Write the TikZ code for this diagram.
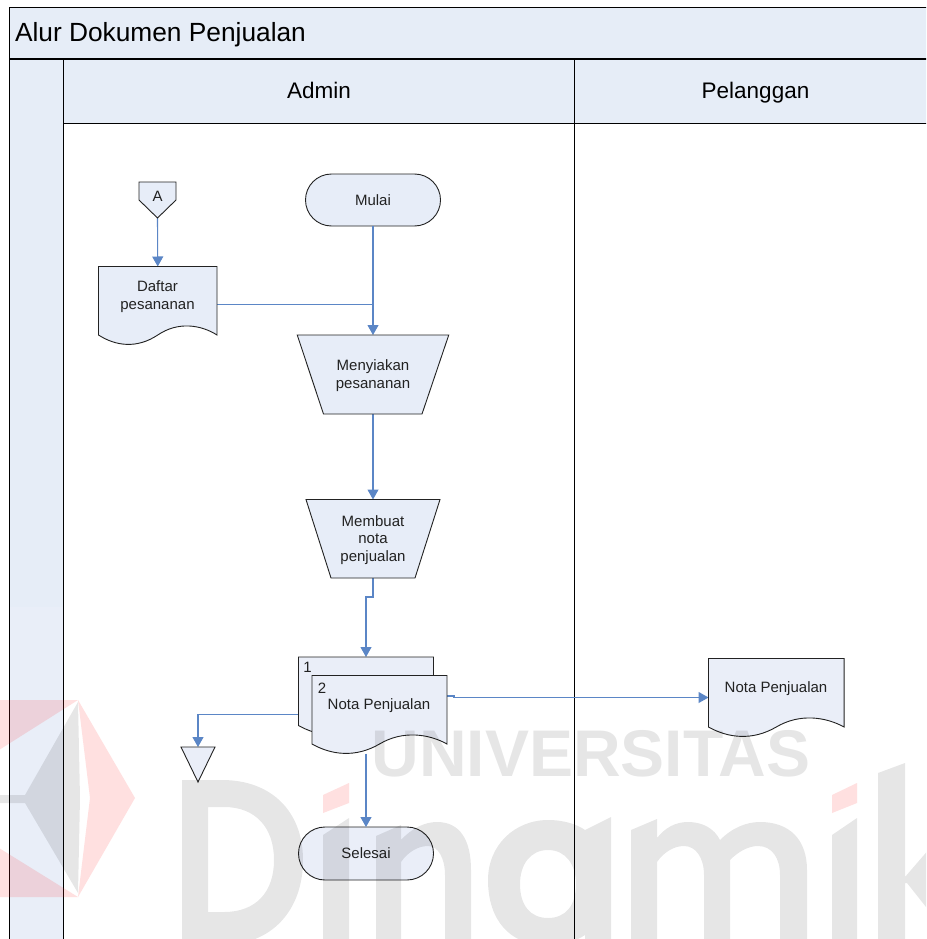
\documentclass[tikz,border=0pt]{standalone}
\usepackage{fontspec}
\setmainfont{Liberation Sans}
\usetikzlibrary{arrows.meta,shapes.misc}
\definecolor{laneA}{HTML}{E6EDF7}
\definecolor{laneB}{HTML}{E9EEF8}
\definecolor{shapeA}{HTML}{E7EDF8}
\definecolor{shapeB}{HTML}{EAEEF8}
\definecolor{conn}{HTML}{5B86C6}
\definecolor{ink}{HTML}{222222}
\tikzset{
 lane/.style={draw=black,line width=1pt},
 sh/.style={draw=ink,line width=0.9pt,line join=miter},
 box/.style={inner sep=0pt,outer sep=0pt},
 lbl/.style={inner sep=0pt,outer sep=0pt,align=center,text=ink,font=\fontsize{15}{18}\selectfont},
 conline/.style={draw=conn,line width=1.1pt},
 conarrow/.style={conline,-{Triangle[length=10pt,width=11pt,fill=conn]}},
 wmark/.style={fill=black,fill opacity=.098,even odd rule},
 wpink/.style={fill=red!85!white,fill opacity=.14},
}
\newcommand{\wavedoc}[4]{\draw[sh,fill=#4,shift={(#1,#2)},xscale=#3] (0,0) -- (135,0) -- (135,68.5) .. controls (117,58.5) and (91,54.5) .. (67.5,68.5) .. controls (43.5,82.5) and (19.5,79.5) .. (0,68.5) -- cycle;}
\begin{document}
\begin{tikzpicture}[x=1pt,y=-1pt]
\useasboundingbox (0,0) rectangle (926,939);
\clip (0,0) rectangle (926,939);
\fill[white] (0,0) rectangle (926,939);
% lanes
\fill[laneA] (9.5,7.5) rectangle (930,59);
\fill[laneA] (9.5,59) rectangle (63,607);
\fill[laneB] (9.5,607) rectangle (63,945);
\fill[laneA] (63,59) rectangle (930,124);
\draw[lane] (930,7.5) -- (9.5,7.5) -- (9.5,945);
\draw[lane,line width=1.6pt] (9.5,59) -- (930,59);
\draw[lane] (63,59) -- (63,945);
\draw[lane] (63,124) -- (930,124);
\draw[lane] (574.5,59) -- (574.5,945);
\node[box,anchor=base west,text=black,font=\fontsize{26.3}{30}\selectfont] (title) at (15,41.5) {Alur Dokumen Penjualan};
\node[box,anchor=base,text=black,font=\fontsize{22.5}{26}\selectfont] (admin) at (319,99) {Admin};
\node[box,anchor=base,text=black,font=\fontsize{22.5}{26}\selectfont] (pelanggan) at (755.5,99) {Pelanggan};
% node boxes (anchors for connectors)
\node[box,minimum width=37pt,minimum height=36pt] (offA) at (157.5,200) {};
\node[box,minimum width=118.5pt,minimum height=76pt] (daftar) at (157.75,304.5) {};
\node[box,minimum width=151.5pt,minimum height=79pt] (menyiakan) at (373,374.5) {};
\node[box,minimum width=134pt,minimum height=78.5pt] (membuat) at (373,538.75) {};
\node[box,minimum width=135pt,minimum height=78pt] (notaA) at (366,696) {};
\node[box,minimum width=135pt,minimum height=78pt] (notaB) at (379.5,714.5) {};
\node[box,minimum width=135.5pt,minimum height=78pt] (notaP) at (776.25,697.5) {};
\node[box,minimum width=34pt,minimum height=35pt] (sink) at (198,764.5) {};
\coordinate (joint) at (373,304.5);
\coordinate (bendA) at (373,597);
\coordinate (bendB) at (366,597);
\coordinate (outA) at (447,696);
\coordinate (outB) at (454,696);
\coordinate (outC) at (454,697.5);
% terminals
\node[rounded rectangle,sh,fill=shapeA,box,minimum width=135pt,minimum height=52pt,text=ink,font=\fontsize{15}{18}\selectfont] (mulai) at (373,200) {Mulai};
\node[rounded rectangle,sh,fill=shapeB,box,minimum width=135pt,minimum height=53pt,text=ink,font=\fontsize{15}{18}\selectfont] (selesai) at (366,853.5) {Selesai};
% connectors
\draw[conarrow] (offA.south) -- (daftar.north);
\draw[conline] (daftar.east) -- (joint);
\draw[conarrow] (mulai.south) -- (menyiakan.north);
\draw[conarrow] (menyiakan.south) -- (membuat.north);
\draw[conarrow] (membuat.south) -- (bendA) -- (bendB) -- (notaA.north);
\draw[conarrow] (notaB.south -| notaA.south) -- (selesai.north);
\draw[conarrow] (outA) -- (outB) -- (outC) -- (notaP.west);
\draw[conarrow] (notaB.west) -| (sink.north);
% shapes
\draw[sh,fill=shapeA] (139,182) -- (176,182) -- (176,200) -- (157.5,218) -- (139,200) -- cycle;
\wavedoc{98.5}{266.5}{.878}{shapeA}
\draw[sh,fill=shapeA] (297.25,335) -- (448.75,335) -- (422,414) -- (323.5,414) -- cycle;
\draw[sh,fill=shapeA] (306,499.5) -- (440,499.5) -- (415,578) -- (331,578) -- cycle;
\wavedoc{298.5}{657}{1}{shapeB}
\wavedoc{312}{675.5}{1}{shapeB}
\wavedoc{708.5}{658.5}{1.004}{shapeB}
\draw[sh,fill=shapeB] (181,747) -- (215,747) -- (198,782) -- cycle;
% labels
\node[lbl] (tA) at (157.5,196) {A};
\node[lbl] (tDaftar) at (157.5,296.5) {Daftar\\pesananan};
\node[lbl] (tMenyiakan) at (373,375.5) {Menyiakan\\pesananan};
\node[lbl,font=\fontsize{15}{17.6}\selectfont] (tMembuat) at (373,540) {Membuat\\nota\\penjualan};
\node[lbl] (tOne) at (307.5,667) {1};
\node[lbl] (tTwo) at (322,688.5) {2};
\node[lbl] (tNotaB) at (379,706) {Nota Penjualan};
\node[lbl] (tNotaP) at (776,689) {Nota Penjualan};
% watermark
\fill[wpink] (-1,700) -- (78,700) -- (-1,750) -- cycle;
\fill[wpink] (-1,848) -- (78,897) -- (-1,897) -- cycle;
\fill[wpink] (78,700) -- (135,798) -- (78,897) -- (90,798) -- cycle;
\fill[wmark] (78,702) -- (25,795) -- (-1,795) -- (-1,803) -- (25,803) -- (78,893) -- (80,798) -- cycle;
\node[box,text=black,text opacity=.098,font=\fontsize{66}{70}\selectfont\bfseries] (univ) at (591,754) {UNIVERSITAS};
% D
\fill[wmark] (182,780) -- (222,780) .. controls (272,780) and (303,812) .. (303,860) .. controls (303,910) and (272,945) .. (222,945) -- (182,945) -- cycle
 (208,807) -- (208,912) -- (224,912) .. controls (256,912) and (274,892) .. (274,860) .. controls (274,828) and (256,807) .. (224,807) -- cycle;
% i
\fill[wmark] (323,835) -- (349,818) -- (349,945) -- (323,945) -- cycle;
\fill[wpink] (323,795) -- (349,783) -- (349,803) -- (323,813) -- cycle;
% n
\fill[wmark] (376,836) -- (401,825) -- (401,840) .. controls (412,828) and (425,822) .. (437,822) .. controls (460,822) and (471,840) .. (471,870) -- (471,945) -- (445,945) -- (445,875) .. controls (445,858) and (438,846) .. (428,846) .. controls (418,846) and (408,852) .. (401,862) -- (401,945) -- (376,945) -- cycle;
% a
\fill[wmark] (611,817) -- (611,945) -- (585,945) -- (585,935) .. controls (575,942) and (560,945) .. (545,945) .. controls (510,945) and (488,920) .. (488,880) .. controls (488,845) and (515,820) .. (548,820) .. controls (565,820) and (578,825) .. (585,830) -- cycle
 (548,850) .. controls (530,850) and (520,865) .. (520,884) .. controls (520,905) and (530,918) .. (548,918) .. controls (566,918) and (576,905) .. (576,884) .. controls (576,865) and (566,850) .. (548,850) -- cycle;
% m
\fill[wmark] (631,830) -- (657,819) -- (657,838) .. controls (665,828) and (675,822) .. (688,822) .. controls (702,822) and (714,828) .. (720,840) .. controls (732,828) and (746,822) .. (760,822) .. controls (790,822) and (807,840) .. (807,870) -- (807,945) -- (780,945) -- (780,875) .. controls (780,858) and (772,846) .. (758,846) .. controls (748,846) and (738,852) .. (730,860) -- (730,945) -- (704,945) -- (704,875) .. controls (704,858) and (696,846) .. (684,846) .. controls (674,846) and (664,852) .. (657,862) -- (657,945) -- (631,945) -- cycle;
% i
\fill[wmark] (832,835) -- (857,818) -- (857,945) -- (832,945) -- cycle;
\fill[wpink] (832,795) -- (857,783) -- (857,803) -- (832,813) -- cycle;
% k
\fill[wmark] (878,773) -- (905,763) -- (905,877) -- (930,848) -- (930,912) -- (907,883) -- (905,883) -- (905,945) -- (878,945) -- cycle;
\end{tikzpicture}
\end{document}
